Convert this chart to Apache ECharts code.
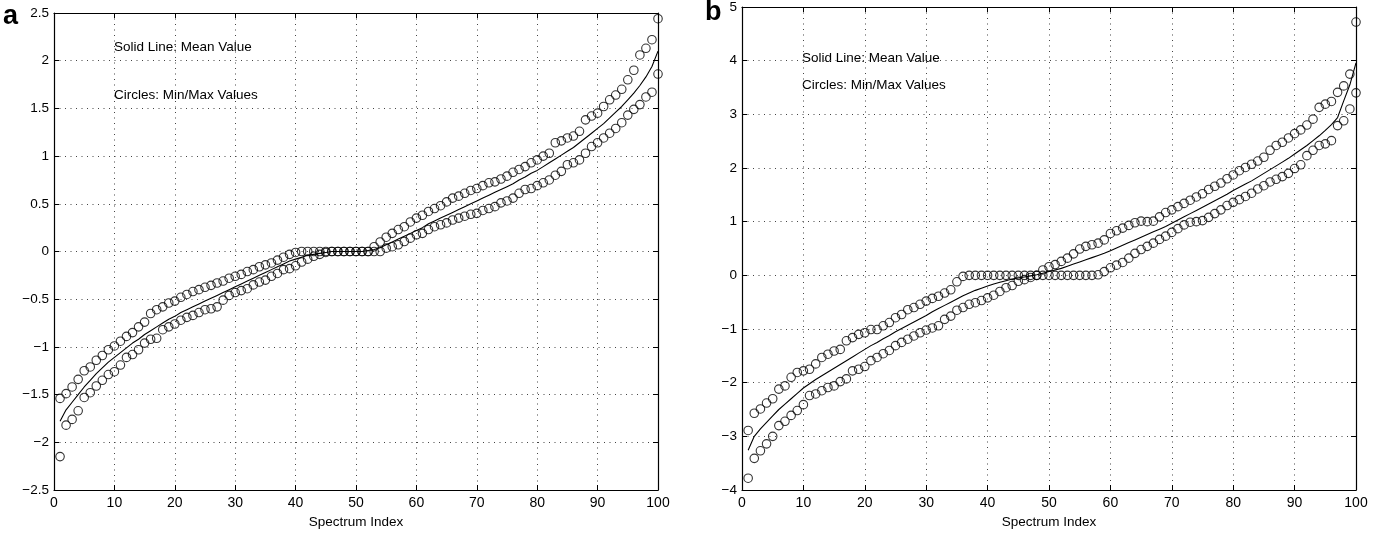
<!DOCTYPE html>
<html>
<head>
<meta charset="utf-8">
<script src="https://cdn.jsdelivr.net/npm/echarts@6/dist/echarts.min.js"></script>
<style>html,body{margin:0;padding:0;background:#fff}#c{width:1389px;height:534px}</style>
</head>
<body>
<div id="c"></div>
<script>
// ---------- DATA ----------
const xTicks = [0,10,20,30,40,50,60,70,80,90,100];
const yTicksA = [-2.5,-2,-1.5,-1,-0.5,0,0.5,1,1.5,2,2.5];
const yTicksB = [-4,-3,-2,-1,0,1,2,3,4,5];
const xLabel = "Spectrum Index";
const noteMean = "Solid Line: Mean Value";
const noteCircles = "Circles: Min/Max Values";

// Panel a (index 1..100)
const maxA = [-1.54,-1.49,-1.42,-1.34,-1.25,-1.21,-1.14,-1.09,-1.03,-0.99,
  -0.94,-0.89,-0.85,-0.79,-0.74,-0.65,-0.61,-0.58,-0.54,-0.52,
  -0.48,-0.45,-0.42,-0.40,-0.375,-0.355,-0.33,-0.31,-0.28,-0.26,
  -0.24,-0.21,-0.19,-0.16,-0.14,-0.12,-0.09,-0.06,-0.03,-0.01,
  0,0,0,0,0,0,0,0,0,0,
  0,0,0.05,0.10,0.15,0.19,0.23,0.26,0.31,0.35,
  0.38,0.42,0.45,0.48,0.52,0.56,0.58,0.61,0.64,0.66,
  0.69,0.72,0.73,0.76,0.79,0.83,0.86,0.89,0.93,0.96,
  1.00,1.03,1.14,1.16,1.19,1.21,1.26,1.38,1.42,1.45,
  1.52,1.59,1.64,1.70,1.80,1.90,2.06,2.13,2.22,2.44];
const minA = [-2.15,-1.82,-1.76,-1.67,-1.53,-1.48,-1.41,-1.35,-1.29,-1.26,
  -1.19,-1.11,-1.08,-1.03,-0.96,-0.92,-0.91,-0.82,-0.79,-0.76,
  -0.72,-0.69,-0.67,-0.64,-0.61,-0.60,-0.58,-0.51,-0.46,-0.43,
  -0.41,-0.39,-0.35,-0.32,-0.30,-0.26,-0.23,-0.19,-0.18,-0.15,
  -0.11,-0.08,-0.05,-0.03,-0.01,0,0,0,0,0,
  0,0,0,0,0.035,0.05,0.07,0.105,0.14,0.175,
  0.19,0.23,0.26,0.28,0.30,0.33,0.35,0.37,0.39,0.40,
  0.43,0.45,0.47,0.51,0.53,0.56,0.61,0.65,0.66,0.69,
  0.72,0.75,0.80,0.84,0.91,0.93,0.96,1.03,1.10,1.14,
  1.19,1.24,1.29,1.35,1.43,1.49,1.54,1.62,1.67,1.86];
const meanA = [-1.78,-1.66,-1.58,-1.50,-1.42,-1.35,-1.28,-1.22,-1.16,-1.11,
  -1.06,-1.01,-0.96,-0.92,-0.87,-0.83,-0.79,-0.75,-0.71,-0.68,
  -0.64,-0.61,-0.58,-0.55,-0.52,-0.49,-0.46,-0.43,-0.40,-0.37,
  -0.34,-0.31,-0.28,-0.25,-0.22,-0.19,-0.16,-0.13,-0.10,-0.08,
  -0.06,-0.04,-0.03,-0.02,-0.01,0,0,0,0,0,
  0,0.01,0.02,0.04,0.07,0.10,0.13,0.16,0.19,0.22,
  0.25,0.29,0.32,0.35,0.38,0.41,0.44,0.47,0.50,0.53,
  0.56,0.59,0.62,0.65,0.68,0.71,0.75,0.78,0.82,0.85,
  0.89,0.93,0.97,1.01,1.05,1.09,1.14,1.19,1.24,1.29,
  1.34,1.40,1.46,1.52,1.59,1.66,1.74,1.83,1.94,2.10];

// Panel b (index 1..100)
const maxB = [-2.89,-2.57,-2.49,-2.38,-2.30,-2.12,-2.06,-1.90,-1.81,-1.78,
  -1.75,-1.65,-1.53,-1.47,-1.41,-1.38,-1.22,-1.16,-1.10,-1.07,
  -1.01,-1.01,-0.94,-0.88,-0.79,-0.73,-0.64,-0.60,-0.54,-0.48,
  -0.43,-0.39,-0.33,-0.27,-0.12,-0.02,0,0,0,0,
  0,0,0,0,0,0,0,0,0.10,0.16,
  0.20,0.26,0.32,0.40,0.49,0.54,0.57,0.60,0.66,0.78,
  0.83,0.88,0.93,0.98,1.01,1.00,1.01,1.09,1.17,1.22,
  1.28,1.34,1.40,1.46,1.52,1.60,1.66,1.72,1.80,1.87,
  1.95,2.01,2.07,2.13,2.20,2.33,2.42,2.48,2.56,2.64,
  2.71,2.80,2.91,3.13,3.19,3.24,3.41,3.53,3.75,4.72];
const minB = [-3.78,-3.41,-3.27,-3.14,-3.00,-2.80,-2.72,-2.61,-2.52,-2.41,
  -2.24,-2.21,-2.15,-2.09,-2.06,-1.98,-1.93,-1.78,-1.75,-1.70,
  -1.59,-1.53,-1.46,-1.40,-1.31,-1.25,-1.19,-1.13,-1.07,-1.02,
  -0.98,-0.94,-0.82,-0.76,-0.65,-0.60,-0.54,-0.51,-0.47,-0.42,
  -0.37,-0.30,-0.23,-0.19,-0.11,-0.08,-0.04,0,0,0,
  0,0,0,0,0,0,0,0.01,0.07,0.14,
  0.19,0.24,0.32,0.41,0.48,0.54,0.60,0.67,0.73,0.80,
  0.87,0.94,0.99,1.00,1.02,1.08,1.15,1.22,1.30,1.36,
  1.41,1.47,1.53,1.61,1.67,1.74,1.79,1.84,1.90,1.99,
  2.06,2.23,2.33,2.42,2.45,2.51,2.79,2.88,3.10,3.40];
const meanB = [-3.26,-3.00,-2.86,-2.74,-2.62,-2.50,-2.40,-2.30,-2.20,-2.10,
  -2.02,-1.94,-1.87,-1.80,-1.73,-1.66,-1.59,-1.52,-1.45,-1.38,
  -1.31,-1.25,-1.18,-1.12,-1.05,-0.99,-0.93,-0.87,-0.81,-0.75,
  -0.68,-0.62,-0.56,-0.50,-0.44,-0.38,-0.33,-0.28,-0.24,-0.20,
  -0.16,-0.13,-0.10,-0.07,-0.05,-0.03,-0.01,0.01,0.04,0.07,
  0.10,0.13,0.17,0.21,0.25,0.29,0.33,0.37,0.41,0.46,
  0.51,0.56,0.61,0.66,0.71,0.76,0.81,0.86,0.91,0.97,
  1.03,1.09,1.15,1.21,1.27,1.33,1.39,1.45,1.51,1.58,
  1.64,1.70,1.76,1.83,1.90,1.97,2.04,2.11,2.18,2.26,
  2.34,2.42,2.51,2.60,2.70,2.81,2.94,3.25,3.55,3.96];

// ---------- CHART ----------
const FONT = '"Liberation Sans", Arial, Helvetica, sans-serif';
const pair = arr => arr.map((v, i) => [i + 1, v]);
const fmt = v => {
  const s = String(Math.round(v * 10) / 10);
  return s.replace('-', '\u2212');
};

const chart = echarts.init(document.getElementById('c'), null, {renderer: 'canvas'});

const grids = [
  {left: 54, top: 13, width: 604, height: 477},
  {left: 742, top: 4, width: 614, height: 486}
];

function xAxes(gi) {
  return [
    {
      type: 'value', gridIndex: gi, min: 0, max: 100, interval: 10,
      name: xLabel, nameLocation: 'middle', nameGap: 25,
      nameTextStyle: {fontFamily: FONT, fontSize: 13.5, color: '#000'},
      axisLine: {show: true, onZero: false, lineStyle: {color: '#000', width: 1.2}},
      axisTick: {show: true, inside: true, length: 5, lineStyle: {color: '#000'}},
      axisLabel: {fontFamily: FONT, fontSize: 14, color: '#000', margin: 6, formatter: v => fmt(v)},
      splitLine: {show: true, lineStyle: {color: '#444', type: [1, 4.5], width: 1}}
    },
    {
      type: 'value', gridIndex: gi, min: 0, max: 100, interval: 10, position: 'top',
      axisLine: {show: true, onZero: false, lineStyle: {color: '#000', width: 1.2}},
      axisTick: {show: true, inside: true, length: 5, lineStyle: {color: '#000'}},
      axisLabel: {show: false}, splitLine: {show: false}
    }
  ];
}
function yAxes(gi, min, max, interval) {
  return [
    {
      type: 'value', gridIndex: gi, min, max, interval,
      axisLine: {show: true, onZero: false, lineStyle: {color: '#000', width: 1.2}},
      axisTick: {show: true, inside: true, length: 5, lineStyle: {color: '#000'}},
      axisLabel: {fontFamily: FONT, fontSize: 13.5, color: '#000', margin: 5, formatter: v => fmt(v)},
      splitLine: {show: true, lineStyle: {color: '#444', type: [1, 4.5], width: 1}}
    },
    {
      type: 'value', gridIndex: gi, min, max, interval, position: 'right',
      axisLine: {show: true, onZero: false, lineStyle: {color: '#000', width: 1.2}},
      axisTick: {show: true, inside: true, length: 5, lineStyle: {color: '#000'}},
      axisLabel: {show: false}, splitLine: {show: false}
    }
  ];
}

function circles(name, arr, axisBase) {
  return {
    name, type: 'scatter', xAxisIndex: axisBase, yAxisIndex: axisBase,
    data: pair(arr), symbol: 'circle', symbolSize: 8.5,
    itemStyle: {color: 'rgba(255,255,255,0)', borderColor: '#000', borderWidth: 1.1},
    silent: true, z: 3
  };
}
function meanLine(arr, axisBase) {
  return {
    name: 'Mean', type: 'line', xAxisIndex: axisBase, yAxisIndex: axisBase,
    data: pair(arr), showSymbol: false, smooth: false,
    lineStyle: {color: '#000', width: 1.1}, silent: true, z: 2
  };
}

const option = {
  backgroundColor: '#fff',
  animation: false,
  grid: grids,
  xAxis: [...xAxes(0), ...xAxes(1)],
  yAxis: [...yAxes(0, -2.5, 2.5, 0.5), ...yAxes(1, -4, 5, 1)],
  series: [
    meanLine(meanA, 0), circles('Max a', maxA, 0), circles('Min a', minA, 0),
    meanLine(meanB, 2), circles('Max b', maxB, 2), circles('Min b', minB, 2)
  ],
  graphic: [
    {type: 'text', left: 3, top: 3, style: {text: 'a', font: 'bold 27px ' + FONT, fill: '#000'}},
    {type: 'text', left: 705, top: -1, style: {text: 'b', font: 'bold 27px ' + FONT, fill: '#000'}},
    {type: 'text', left: 114, top: 40, style: {text: noteMean, font: '13.5px ' + FONT, fill: '#000'}},
    {type: 'text', left: 114, top: 88, style: {text: noteCircles, font: '13.5px ' + FONT, fill: '#000'}},
    {type: 'text', left: 802, top: 51, style: {text: noteMean, font: '13.5px ' + FONT, fill: '#000'}},
    {type: 'text', left: 802, top: 78, style: {text: noteCircles, font: '13.5px ' + FONT, fill: '#000'}}
  ]
};
chart.setOption(option);
</script>
</body>
</html>
